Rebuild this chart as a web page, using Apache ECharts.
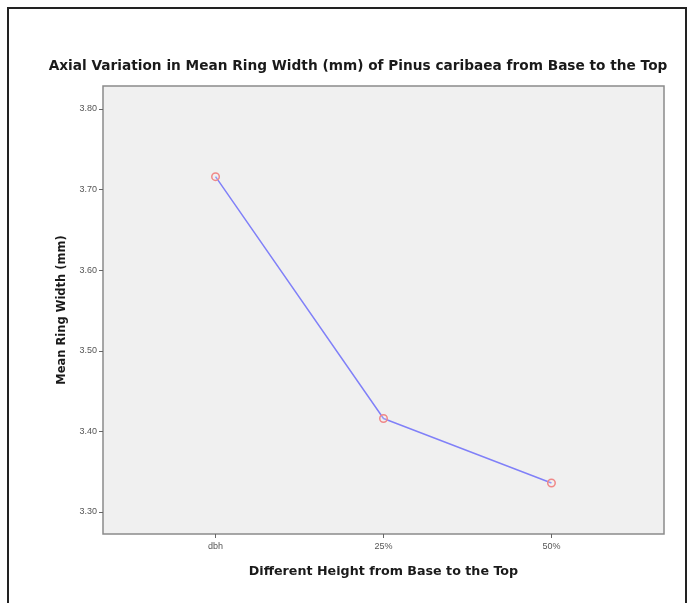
<!DOCTYPE html>
<html>
<head>
<meta charset="utf-8">
<script src="https://cdn.jsdelivr.net/npm/echarts@6/dist/echarts.min.js"></script>
<style>
html,body{margin:0;padding:0;background:#fff;}
#chart{width:690px;height:603px;}
</style>
</head>
<body>
<div id="chart"></div>
<script>
var categories = ['dbh', '25%', '50%'];
var meanRingWidth = [3.716, 3.416, 3.336];
var yTicks = [3.30, 3.40, 3.50, 3.60, 3.70, 3.80];

var chart = echarts.init(document.getElementById('chart'), null, {renderer: 'canvas'});
var font = '"DejaVu Sans", "Liberation Sans", Arial, sans-serif';
var tickFont = '"Liberation Sans", Arial, sans-serif';
var option = {
  animation: false,
  backgroundColor: '#ffffff',
  title: {
    text: 'Axial Variation in Mean Ring Width (mm) of Pinus caribaea from Base to the Top',
    left: 353, top: 54, textAlign: 'center',
    textStyle: {fontFamily: font, fontSize: 13.7, fontWeight: 'bold', color: '#1a1a1a'}
  },
  graphic: [{
    type: 'rect', silent: true, z: -1,
    shape: {x: 8, y: 8, width: 678, height: 620},
    style: {fill: null, stroke: '#222', lineWidth: 2}
  }],
  grid: {
    left: 103, top: 86, right: 26, bottom: 69,
    show: true, backgroundColor: '#f0f0f0', borderColor: '#8a8a8a', borderWidth: 1.5
  },
  xAxis: {
    type: 'value', min: -0.67, max: 2.67,
    name: 'Different Height from Base to the Top',
    nameLocation: 'middle', nameGap: 31,
    nameTextStyle: {fontFamily: font, fontSize: 12.7, fontWeight: 'bold', color: '#1a1a1a'},
    axisLine: {show: false, onZero: false},
    splitLine: {show: false},
    axisTick: {show: true, length: 4, customValues: [0, 1, 2], lineStyle: {color: '#666'}},
    axisLabel: {
      customValues: [0, 1, 2], margin: 8,
      fontFamily: tickFont, fontSize: 9, color: '#555',
      formatter: function (v) { return categories[Math.round(v)]; }
    }
  },
  yAxis: {
    type: 'value', min: 3.2727, max: 3.8285,
    name: 'Mean Ring Width (mm)',
    nameLocation: 'middle', nameGap: 35, nameRotate: 90,
    nameTextStyle: {fontFamily: font, fontSize: 11.5, fontWeight: 'bold', color: '#1a1a1a'},
    axisLine: {show: false, onZero: false},
    splitLine: {show: false},
    axisTick: {show: true, length: 4, customValues: yTicks, lineStyle: {color: '#666'}},
    axisLabel: {
      customValues: yTicks, margin: 6,
      fontFamily: tickFont, fontSize: 9, color: '#555',
      formatter: function (v) { return v.toFixed(2); }
    }
  },
  series: [{
    type: 'line',
    data: meanRingWidth.map(function (v, i) { return [i, v]; }),
    symbol: 'circle', symbolSize: 7.5,
    lineStyle: {color: '#8080f8', width: 1.5},
    itemStyle: {color: 'rgba(240,240,240,0.2)', borderColor: '#f08888', borderWidth: 1.5}
  }]
};
chart.setOption(option);
</script>
</body>
</html>
